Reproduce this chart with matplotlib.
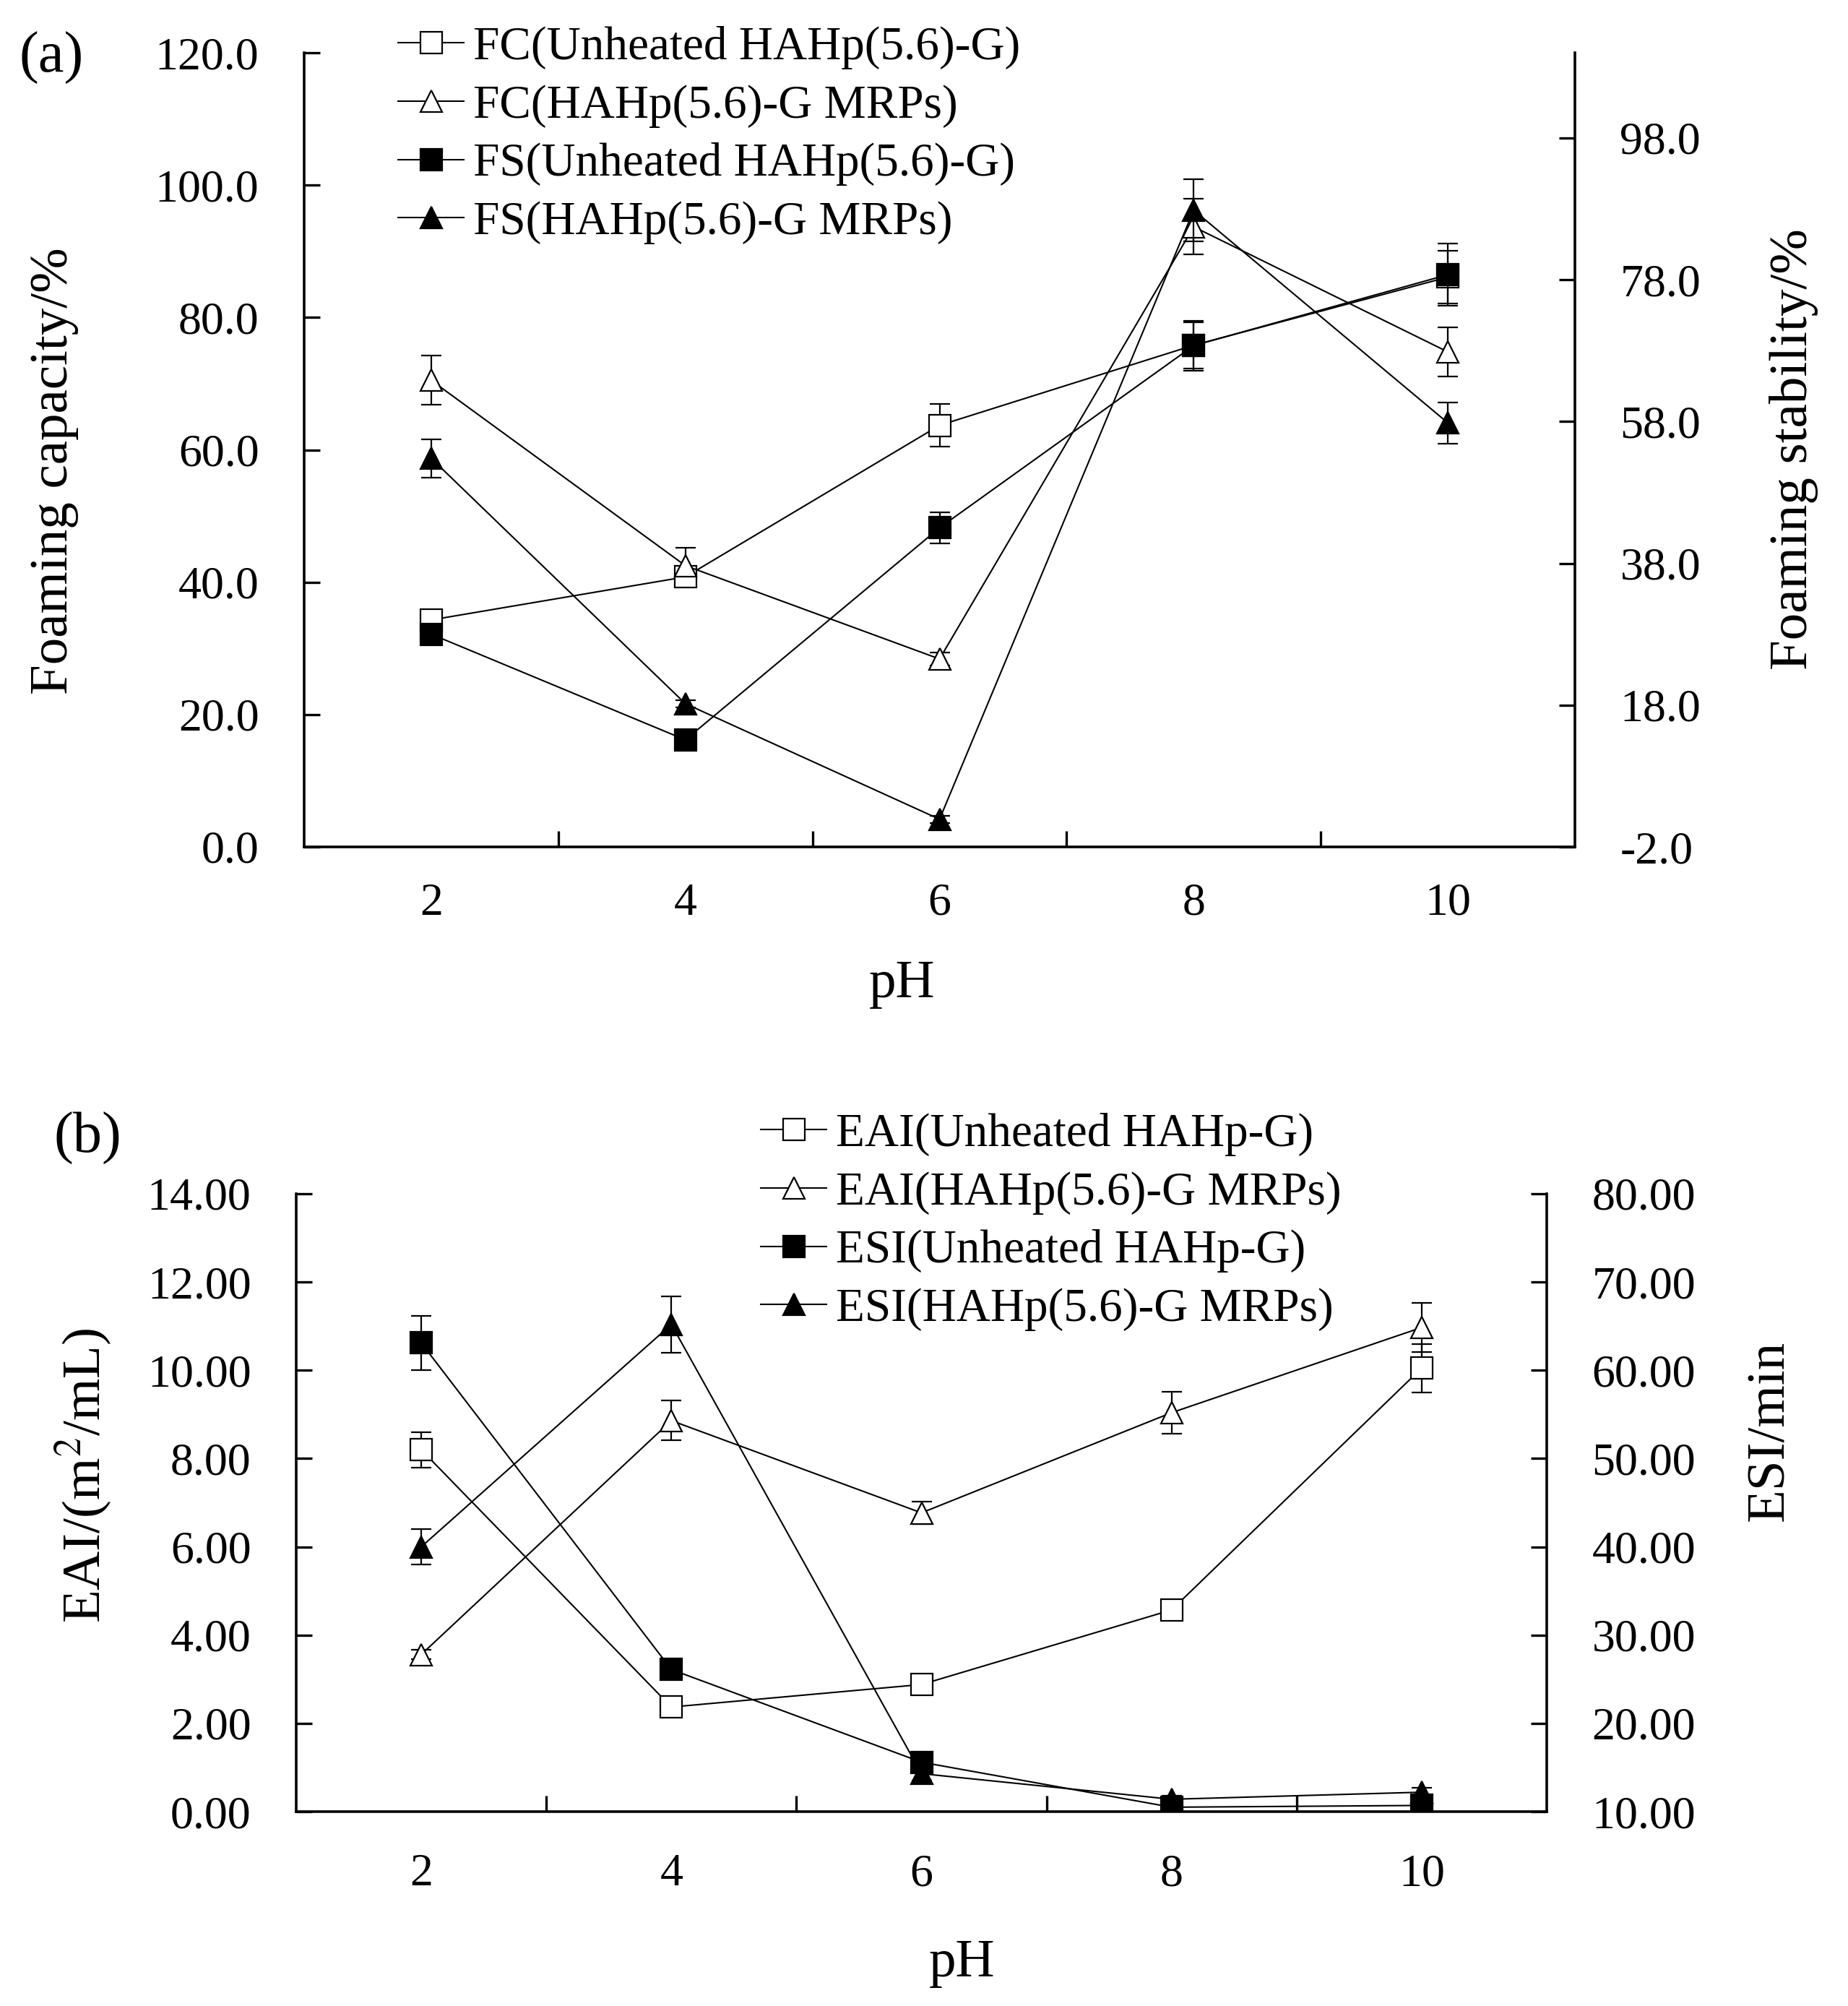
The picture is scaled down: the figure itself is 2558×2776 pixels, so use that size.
import numpy as np
import matplotlib; matplotlib.use("Agg")
import matplotlib.pyplot as plt
from matplotlib.ticker import FixedLocator, FormatStrFormatter

# ---------- dati ----------
ph = ["2", "4", "6", "8", "10"]

fc_unheated = [34.3, 40.8, 63.7, 75.8, 86.1]
fc_unheated_err = [0.8, 1.5, 3.2, 3.5, 4.0]
fc_mrps = [70.5, 42.5, 28.4, 93.7, 74.8]
fc_mrps_err = [3.7, 2.7, 1.0, 4.2, 3.7]
fs_unheated = [28.0, 13.1, 43.0, 68.7, 78.7]
fs_unheated_err = [0.5, 0.5, 2.2, 3.5, 4.4]
fs_mrps = [52.8, 18.2, 1.9, 87.8, 57.8]
fs_mrps_err = [2.7, 0.5, 0.5, 4.4, 2.9]

eai_unheated = [8.20, 2.37, 2.88, 4.57, 10.05]
eai_unheated_err = [0.40, 0.12, 0.12, 0.12, 0.55]
eai_mrps = [3.56, 8.86, 6.77, 9.04, 10.97]
eai_mrps_err = [0.10, 0.45, 0.25, 0.47, 0.55]
esi_unheated = [63.1, 26.1, 15.6, 10.5, 10.7]
esi_unheated_err = [3.1, 0.8, 0.8, 0.3, 0.3]
esi_mrps = [40.0, 65.2, 14.3, 11.4, 12.2]
esi_mrps_err = [2.0, 3.2, 0.8, 0.4, 0.5]

# ---------- stile ----------
plt.rcParams.update({"font.family": ["Liberation Serif", "DejaVu Serif"],
                     "mathtext.fontset": "stix"})
TICK_FS = 46; LAB_FS = 54; LEG_FS = 47
W, H = 2558, 2776
fig = plt.figure(figsize=(W/100, H/100), dpi=100)

def box(l, t, r, b):
    return [l/W, 1-b/H, (r-l)/W, (b-t)/H]

def style_axes(ax, right=False):
    ax.spines["top"].set_visible(False)
    for s in ["left", "bottom", "right"]:
        ax.spines[s].set_linewidth(2.6)
    ax.set_xlim(-0.5, 4.5)
    ax.xaxis.set_major_locator(FixedLocator(range(5)))
    ax.xaxis.set_minor_locator(FixedLocator([0.5, 1.5, 2.5, 3.5]))
    ax.set_xticklabels(ph)
    ax.tick_params(axis="x", which="major", length=0, pad=36, labelsize=TICK_FS)
    ax.tick_params(axis="x", which="minor", length=16, width=2.4, direction="in")
    ax.tick_params(axis="y", length=16, width=2.4, direction="in", labelsize=TICK_FS, pad=45)

def series(ax, x, y, e, marker, filled):
    ax.errorbar(x, y, yerr=e, color="black", lw=1.5, marker=marker, ms=21,
                mfc="black" if filled else "white", mec="black", mew=1.6,
                ecolor="black", elinewidth=1.6, capsize=10, capthick=1.6)

x = np.arange(len(ph))

# ---------- (a) ----------
axa = fig.add_axes(box(421, 73, 2180, 1172))
axa2 = axa.twinx()
style_axes(axa); style_axes(axa2)
axa.spines["right"].set_visible(False)
axa2.spines["left"].set_visible(False)
axa2.spines["bottom"].set_visible(False)
axa.set_ylim(0, 120)
axa.set_yticks(np.arange(0, 121, 20))
axa.yaxis.set_major_formatter(FormatStrFormatter("%.1f"))
axa2.set_ylim(-2, 110)
axa2.set_yticks(np.arange(-2, 99, 20))
axa2.yaxis.set_major_formatter(FormatStrFormatter("%.1f"))
axa2.tick_params(axis="x", which="both", length=0, labelbottom=False)

series(axa, x, fc_unheated, fc_unheated_err, "s", False)
series(axa, x, fc_mrps, fc_mrps_err, "^", False)
series(axa2, x, fs_unheated, fs_unheated_err, "s", True)
series(axa2, x, fs_mrps, fs_mrps_err, "^", True)

h = [plt.Line2D([], [], color="black", lw=1.5, marker=m, ms=21, mew=1.6,
                mfc=("black" if f else "white"), mec="black")
     for m, f in [("s", False), ("^", False), ("s", True), ("^", True)]]
fig.legend(h, ["FC(Unheated HAHp(5.6)-G)", "FC(HAHp(5.6)-G MRPs)",
               "FS(Unheated HAHp(5.6)-G)", "FS(HAHp(5.6)-G MRPs)"],
           loc="upper left", bbox_to_anchor=(551/W, 1-36/H), frameon=False,
           fontsize=LEG_FS, handlelength=1.4, handletextpad=0.2,
           labelspacing=0.32, borderpad=0, borderaxespad=0)

fig.text(71/W, 1-80/H, "(a)", fontsize=58, ha="center", va="center")
fig.text(1249/W, 1-1362/H, "pH", fontsize=LAB_FS, ha="center", va="center")
fig.text(75/W, 1-652/H, "Foaming capacity/%", fontsize=LAB_FS, rotation=90,
         ha="center", va="center")
fig.text(2483/W, 1-622/H, "Foaming stability/%", fontsize=LAB_FS, rotation=90,
         ha="center", va="center")

# ---------- (b) ----------
axb = fig.add_axes(box(410, 1652, 2141, 2507))
axb2 = axb.twinx()
style_axes(axb); style_axes(axb2)
axb.spines["right"].set_visible(False)
axb2.spines["left"].set_visible(False)
axb2.spines["bottom"].set_visible(False)
axb.set_ylim(0, 14)
axb.set_yticks(np.arange(0, 14.1, 2))
axb.yaxis.set_major_formatter(FormatStrFormatter("%.2f"))
axb2.set_ylim(10, 80)
axb2.set_yticks(np.arange(10, 81, 10))
axb2.yaxis.set_major_formatter(FormatStrFormatter("%.2f"))
axb2.tick_params(axis="x", which="both", length=0, labelbottom=False)
axb.tick_params(axis="x", which="major", pad=42)

series(axb, x, eai_unheated, eai_unheated_err, "s", False)
series(axb, x, eai_mrps, eai_mrps_err, "^", False)
series(axb2, x, esi_unheated, esi_unheated_err, "s", True)
series(axb2, x, esi_mrps, esi_mrps_err, "^", True)

fig.legend(h, ["EAI(Unheated HAHp-G)", "EAI(HAHp(5.6)-G MRPs)",
               "ESI(Unheated HAHp-G)", "ESI(HAHp(5.6)-G MRPs)"],
           loc="upper left", bbox_to_anchor=(1053/W, 1-1540/H), frameon=False,
           fontsize=LEG_FS, handlelength=1.4, handletextpad=0.2,
           labelspacing=0.32, borderpad=0, borderaxespad=0)

fig.text(121/W, 1-1575/H, "(b)", fontsize=58, ha="center", va="center")
fig.text(1332/W, 1-2717/H, "pH", fontsize=LAB_FS, ha="center", va="center")
fig.text(115/W, 1-2042/H, "EAI/(m$^2$/mL)", fontsize=LAB_FS, rotation=90,
         ha="center", va="center")
fig.text(2451/W, 1-1980/H, "ESI/min", fontsize=LAB_FS, rotation=90,
         ha="center", va="center")

fig.savefig("out.png", dpi=100, facecolor="white")
